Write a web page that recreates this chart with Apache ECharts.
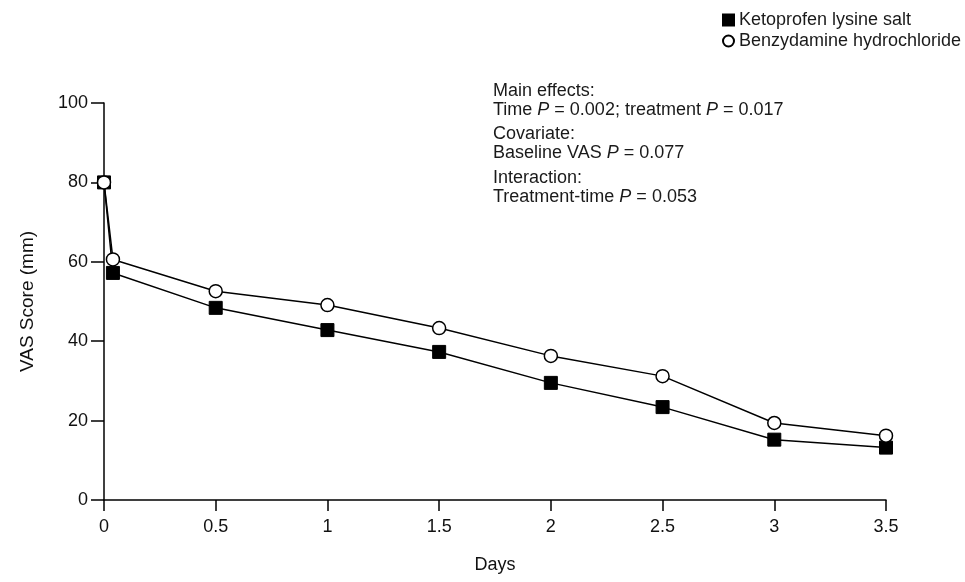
<!DOCTYPE html>
<html>
<head>
<meta charset="utf-8">
<script src="https://cdn.jsdelivr.net/npm/echarts@6/dist/echarts.min.js"></script>
<style>
html,body{margin:0;padding:0;background:#fff;}
#chart{width:965px;height:582px;}
</style>
</head>
<body>
<div id="chart"></div>
<script>
const seriesNames = ['Ketoprofen lysine salt', 'Benzydamine hydrochloride'];
const days = [0, 0.04, 0.5, 1, 1.5, 2, 2.5, 3, 3.5];
const ketoprofen = [80, 57.2, 48.4, 42.8, 37.3, 29.5, 23.4, 15.2, 13.2];
const benzydamine = [80, 60.6, 52.6, 49.1, 43.3, 36.3, 31.2, 19.4, 16.2];
const xTicks = [0, 0.5, 1, 1.5, 2, 2.5, 3, 3.5];
const yTicks = [0, 20, 40, 60, 80, 100];
const notes = [
  ['Main effects:'],
  ['Time ', 'P', ' = 0.002; treatment ', 'P', ' = 0.017'],
  ['Covariate:'],
  ['Baseline VAS ', 'P', ' = 0.077'],
  ['Interaction:'],
  ['Treatment-time ', 'P', ' = 0.053']
];

const FONT = 'Liberation Sans, Arial, Helvetica, sans-serif';
const chart = echarts.init(document.getElementById('chart'), null, {renderer: 'canvas'});

function pairs(xs, ys) { return xs.map((x, i) => [x, ys[i]]); }

function noteText(parts) {
  return parts.map(p => p === 'P' ? '{i|P}' : '{n|' + p + '}').join('');
}
const noteY = [92, 111, 135, 154, 179, 198];
const graphics = notes.map((parts, i) => ({
  type: 'text',
  left: 493,
  top: noteY[i] - 10,
  style: {
    text: noteText(parts),
    rich: {
      n: {fontSize: 18, fontFamily: FONT, fill: '#1a1a1a'},
      i: {fontSize: 18, fontFamily: FONT, fontStyle: 'italic', fill: '#1a1a1a'}
    }
  }
}));

chart.setOption({
  animation: false,
  backgroundColor: '#fff',
  grid: {left: 104, right: 79, top: 103, bottom: 82, containLabel: false},
  legend: {
    orient: 'vertical',
    left: 717,
    top: 6,
    itemWidth: 11,
    itemHeight: 11,
    itemGap: 3,
    textStyle: {fontSize: 18, fontFamily: FONT, color: '#1a1a1a'},
    data: [
      {name: seriesNames[0], icon: 'rect'},
      {name: seriesNames[1], icon: 'circle'}
    ]
  },
  xAxis: {
    type: 'value',
    min: 0, max: 3.5, interval: 0.5,
    name: 'Days',
    nameLocation: 'middle',
    nameGap: 56,
    nameTextStyle: {fontSize: 18, fontFamily: FONT, color: '#111'},
    axisLine: {show: true, onZero: false, lineStyle: {color: '#000', width: 1.5}},
    axisTick: {show: true, length: 11, lineStyle: {color: '#000', width: 1.5}},
    axisLabel: {fontSize: 18, fontFamily: FONT, color: '#111', margin: 18,
      formatter: v => String(v)},
    splitLine: {show: false}
  },
  yAxis: {
    type: 'value',
    min: 0, max: 100, interval: 20,
    name: 'VAS Score (mm)',
    nameLocation: 'middle',
    nameGap: 67,
    nameTextStyle: {fontSize: 19, fontFamily: FONT, color: '#111'},
    axisLine: {show: true, lineStyle: {color: '#000', width: 1.5}},
    axisTick: {show: true, length: 13, lineStyle: {color: '#000', width: 1.5}},
    axisLabel: {fontSize: 18, fontFamily: FONT, color: '#111', margin: 16},
    splitLine: {show: false}
  },
  series: [
    {
      name: seriesNames[0],
      type: 'line',
      data: pairs(days, ketoprofen),
      symbol: 'rect',
      symbolSize: 13,
      showAllSymbol: true,
      lineStyle: {color: '#000', width: 1.5},
      itemStyle: {color: '#000', borderColor: '#000', borderWidth: 1},
      z: 2
    },
    {
      name: seriesNames[1],
      type: 'line',
      data: pairs(days, benzydamine),
      symbol: 'circle',
      symbolSize: 13,
      showAllSymbol: true,
      lineStyle: {color: '#000', width: 1.5},
      itemStyle: {color: '#fff', borderColor: '#000', borderWidth: 1.5},
      z: 3
    }
  ],
  graphic: graphics
});
</script>
</body>
</html>
